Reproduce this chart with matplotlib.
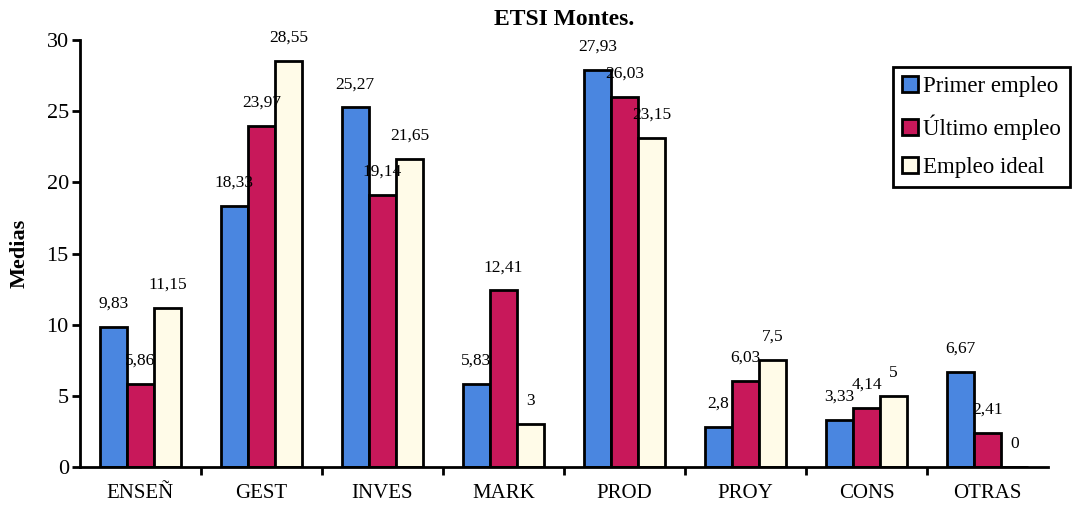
import matplotlib.pyplot as plt
import numpy as np

categories = ["ENSEÑ", "GEST", "INVES", "MARK", "PROD", "PROY", "CONS", "OTRAS"]
primer = [9.83, 18.33, 25.27, 5.83, 27.93, 2.8, 3.33, 6.67]
ultimo = [5.86, 23.97, 19.14, 12.41, 26.03, 6.03, 4.14, 2.41]
ideal = [11.15, 28.55, 21.65, 3, 23.15, 7.5, 5, 0]
series_names = ["Primer empleo", "Último empleo", "Empleo ideal"]

plt.rcParams["font.family"] = ["Liberation Serif", "DejaVu Serif"]

fig = plt.figure(figsize=(10.76, 5.08), dpi=100)
ax = fig.add_axes([0.0743, 0.0807, 0.8997, 0.8403])

x = np.arange(len(categories))
w = 0.225
colors = ["#4a86e0", "#c8185a", "#fffbe8"]

for i, (vals, name) in enumerate(zip([primer, ultimo, ideal], series_names)):
    pos = x + (i - 1) * w
    ax.bar(pos, vals, w, color=colors[i], edgecolor="black", linewidth=2, label=name)
    for p, v in zip(pos, vals):
        txt = f"{v:g}".replace(".", ",")
        ax.annotate(txt, (p, v), xytext=(0, 11), textcoords="offset points",
                    ha="center", va="bottom", fontsize=12.5)

ax.set_xlim(-0.5, len(categories) - 0.5)
ax.set_ylim(0, 30)
ax.set_yticks(range(0, 31, 5))
ax.set_xticks(x)
ax.set_xticklabels(categories, fontsize=15)
ax.set_xticks(np.arange(0.5, len(categories) - 0.5, 1), minor=True)
ax.tick_params(axis="x", which="major", length=0, pad=12)
ax.tick_params(axis="x", which="minor", length=6, width=2)
ax.tick_params(axis="y", length=6, width=2, labelsize=16, pad=2)

for side in ["top", "right"]:
    ax.spines[side].set_visible(False)
for side in ["left", "bottom"]:
    ax.spines[side].set_linewidth(2)

ax.set_ylabel("Medias", fontsize=16, fontweight="bold", labelpad=12)
ax.set_title("ETSI Montes.", fontsize=17, fontweight="bold", pad=11)

leg = fig.legend(loc="upper right", bbox_to_anchor=(0.994, 0.868), fontsize=16.5,
                 fancybox=False, framealpha=1, edgecolor="black",
                 handlelength=0.7, handleheight=0.7, handletextpad=0.2,
                 borderpad=0.4, labelspacing=0.75, borderaxespad=0)
leg.get_frame().set_linewidth(2)

fig.savefig("out.png", dpi=100)
